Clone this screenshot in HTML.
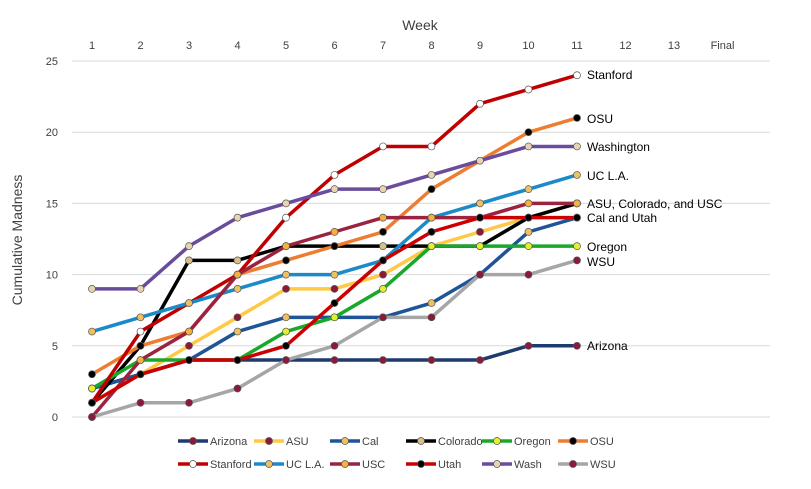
<!DOCTYPE html>
<html><head><meta charset="utf-8"><style>
body{margin:0;background:#fff;font-family:"Liberation Sans",sans-serif}
svg text{font-family:"Liberation Sans",sans-serif;fill:#404040}
</style></head><body>
<svg id="c" width="811" height="484"></svg>
<script>
const weeks=["1","2","3","4","5","6","7","8","9","10","11","12","13","Final"];
const yTicks=[0,5,10,15,20,25];
const names=["Arizona","ASU","Cal","Colorado","Oregon","OSU","Stanford","UC L.A.","USC","Utah","Wash","WSU"];
const arizona=[2,3,4,4,4,4,4,4,4,5,5];
const asu=[1,3,5,7,9,9,10,12,13,14,15];
const cal=[2,3,4,6,7,7,7,8,10,13,14];
const colorado=[1,5,11,11,12,12,12,12,12,14,15];
const oregon=[2,4,4,4,6,7,9,12,12,12,12];
const osu=[3,5,6,10,11,12,13,16,18,20,21];
const stanford=[1,6,8,10,14,17,19,19,22,23,24];
const ucla=[6,7,8,9,10,10,11,14,15,16,17];
const usc=[0,4,6,10,12,13,14,14,14,15,15];
const utah=[1,3,4,4,5,8,11,13,14,14,14];
const wash=[9,9,12,14,15,16,16,17,18,19,19];
const wsu=[0,1,1,2,4,5,7,7,10,10,11];
const series=[arizona,asu,cal,colorado,oregon,osu,stanford,ucla,usc,utah,wash,wsu];
const lineCol=["#1f3a6e","#ffc845","#1f5597","#000000","#19a82a","#ed7d31","#c00000","#1b8ac9","#9b2340","#cc0000","#6a4c9c","#a6a6a6"];
const markCol=["#8b1a3a","#8b1a3a","#f0c060","#d8c08c","#e4f02a","#000000","#ffffff","#f0c060","#f5b040","#000000","#e8d4b0","#8b1a3a"];
const endLabels=[["Stanford",75],["OSU",119],["Washington",147],["UC L.A.",176],["ASU,  Colorado, and USC",204],["Cal and Utah",218],["Oregon",247],["WSU",262],["Arizona",346]];
const NS="http://www.w3.org/2000/svg",svg=document.getElementById('c');
const x=i=>92+i*48.5, y=v=>417-v*14.24;
function el(t,a,p){const e=document.createElementNS(NS,t);for(const k in a)e.setAttribute(k,a[k]);(p||svg).appendChild(e);return e;}
yTicks.forEach(v=>{const g=el('line',{x1:72,x2:770,y1:y(v),y2:y(v),stroke:'#d9d9d9','stroke-width':1});


const t=el('text',{x:58,y:y(v)+4,'text-anchor':'end','font-size':11});t.textContent=v;

});
weeks.forEach((w,i)=>{const t=el('text',{x:x(i),y:49,'text-anchor':'middle','font-size':11});t.textContent=w;

});
let t=el('text',{x:420,y:30,'text-anchor':'middle','font-size':14});t.textContent='Week';


t=el('text',{x:0,y:0,'text-anchor':'middle','font-size':14,transform:'translate(22,240) rotate(-90)'});t.textContent='Cumulative Madness';


series.forEach((s,k)=>{
 const p=el('polyline',{points:s.map((v,i)=>x(i)+','+y(v)).join(' '),fill:'none',stroke:lineCol[k],'stroke-width':3.5,'stroke-linejoin':'round'});
 
 
 s.forEach((v,i)=>{const c=el('circle',{cx:x(i),cy:y(v),r:3.5,fill:markCol[k],stroke:'#555','stroke-width':0.7});
 
 });
});
endLabels.forEach(l=>{const t=el('text',{x:587,y:l[1]+4,'font-size':12,style:'fill:#000'});t.textContent=l[0];

});
names.forEach((n,k)=>{const col=k%6,row=Math.floor(k/6);const lx=178+col*76,ly=441+row*23;
 const l=el('line',{x1:lx,x2:lx+30,y1:ly,y2:ly,stroke:lineCol[k],'stroke-width':3.5});
 
 
 const c=el('circle',{cx:lx+15,cy:ly,r:3.5,fill:markCol[k],stroke:'#555','stroke-width':0.7});
 
 
 const t=el('text',{x:lx+32,y:ly+4,'font-size':11});t.textContent=n==='Wash'?'Wash':n;
 
 });
</script>
</body></html>
